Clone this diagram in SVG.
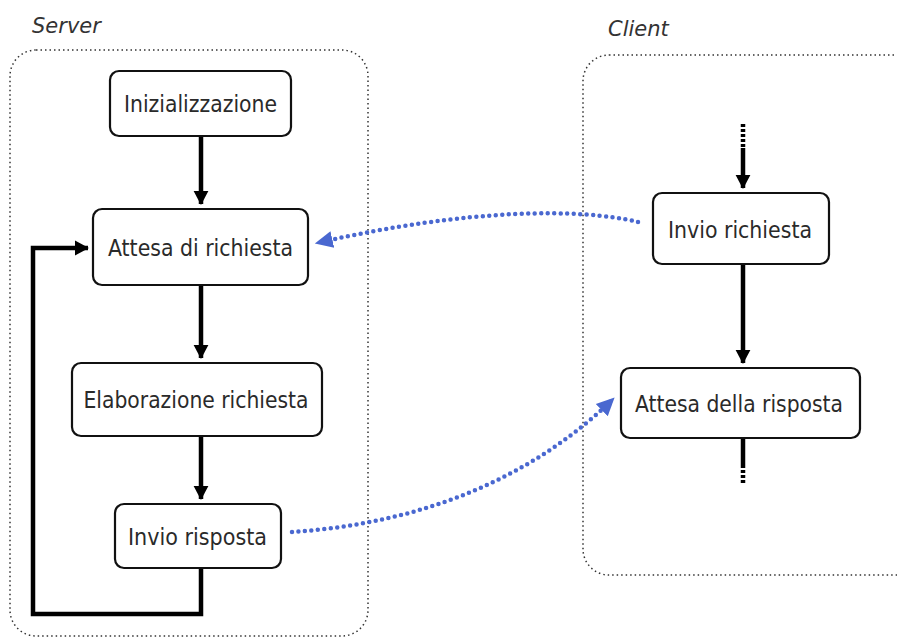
<svg xmlns="http://www.w3.org/2000/svg" width="897" height="641" viewBox="0 0 897 641">
<style>
.cont{fill:none;stroke:#333;stroke-width:1.5;stroke-dasharray:1.5 3}
.lbl{font-family:"DejaVu Sans","Liberation Sans",sans-serif;font-size:21px;font-style:italic;fill:#333}
.box{fill:#fff;stroke:#111;stroke-width:2.2}
.t{font-family:"DejaVu Sans Condensed","DejaVu Sans","Liberation Sans",sans-serif;font-size:23px;fill:#2a2a2a;text-anchor:middle}
.flow{fill:none;stroke:#000;stroke-width:4.5}
.msg{fill:none;stroke:#4a68d0;stroke-width:4.5;stroke-linecap:round;stroke-dasharray:0 6.5}
</style>
<defs>
<marker id="ah" markerWidth="4" markerHeight="4" refX="3" refY="2" orient="auto" markerUnits="strokeWidth">
<path d="M0,0.3 L3.2,2 L0,3.7 Z" fill="#000"/>
</marker>
<marker id="bh" markerWidth="5" markerHeight="5" refX="3.5" refY="2.5" orient="auto" markerUnits="strokeWidth">
<path d="M0,0.6 L4,2.5 L0,4.4 Z" fill="#4a68d0"/>
</marker>
</defs>
<rect width="897" height="641" fill="#fff"/>
<g id="server-container">
<rect class="cont" x="10" y="50" width="358" height="586" rx="26"/>
<text class="lbl" x="32" y="33">Server</text>
</g>
<g id="client-container">
<rect class="cont" x="583" y="55" width="340" height="520" rx="26"/>
<text class="lbl" x="608" y="36">Client</text>
</g>
<g id="connectors">
<line class="flow" x1="201" y1="136" x2="201" y2="204" marker-end="url(#ah)"/>
<line class="flow" x1="201" y1="285" x2="201" y2="358" marker-end="url(#ah)"/>
<line class="flow" x1="201" y1="436" x2="201" y2="499" marker-end="url(#ah)"/>
<polyline class="flow" points="201,568 201,614 33,614 33,248 88,248" marker-end="url(#ah)"/>
<line x1="743" y1="124" x2="743" y2="148" stroke="#000" stroke-width="4.5" stroke-dasharray="3 2"/>
<line class="flow" x1="743" y1="148" x2="743" y2="188" marker-end="url(#ah)"/>
<line class="flow" x1="743" y1="264" x2="743" y2="363" marker-end="url(#ah)"/>
<line class="flow" x1="743" y1="438" x2="743" y2="465"/>
<line x1="743" y1="465" x2="743" y2="484" stroke="#000" stroke-width="4.5" stroke-dasharray="3 2"/>
<path class="msg" d="M638,222 C580,208 470,208 317,243" marker-end="url(#bh)"/>
<path class="msg" d="M292,532 C400,525 520,490 613,399" marker-end="url(#bh)"/>
</g>
<g id="n-init">
<rect class="box" x="110" y="71" width="181" height="65" rx="9"/>
<text class="t" x="200.5" y="112" textLength="153" lengthAdjust="spacingAndGlyphs">Inizializzazione</text>
</g>
<g id="n-attesa-richiesta">
<rect class="box" x="93" y="209" width="215" height="76" rx="9"/>
<text class="t" x="200.5" y="256" textLength="185" lengthAdjust="spacingAndGlyphs">Attesa di richiesta</text>
</g>
<g id="n-elaborazione">
<rect class="box" x="72" y="363" width="250" height="73" rx="9"/>
<text class="t" x="196" y="408" textLength="225" lengthAdjust="spacingAndGlyphs">Elaborazione richiesta</text>
</g>
<g id="n-invio-risposta">
<rect class="box" x="115" y="504" width="166" height="64" rx="9"/>
<text class="t" x="197.5" y="545" textLength="139" lengthAdjust="spacingAndGlyphs">Invio risposta</text>
</g>
<g id="n-invio-richiesta">
<rect class="box" x="653" y="193" width="176" height="71" rx="9"/>
<text class="t" x="740" y="238" textLength="144" lengthAdjust="spacingAndGlyphs">Invio richiesta</text>
</g>
<g id="n-attesa-risposta">
<rect class="box" x="621" y="368" width="239" height="70" rx="9"/>
<text class="t" x="739" y="412" textLength="208" lengthAdjust="spacingAndGlyphs">Attesa della risposta</text>
</g>
</svg>
